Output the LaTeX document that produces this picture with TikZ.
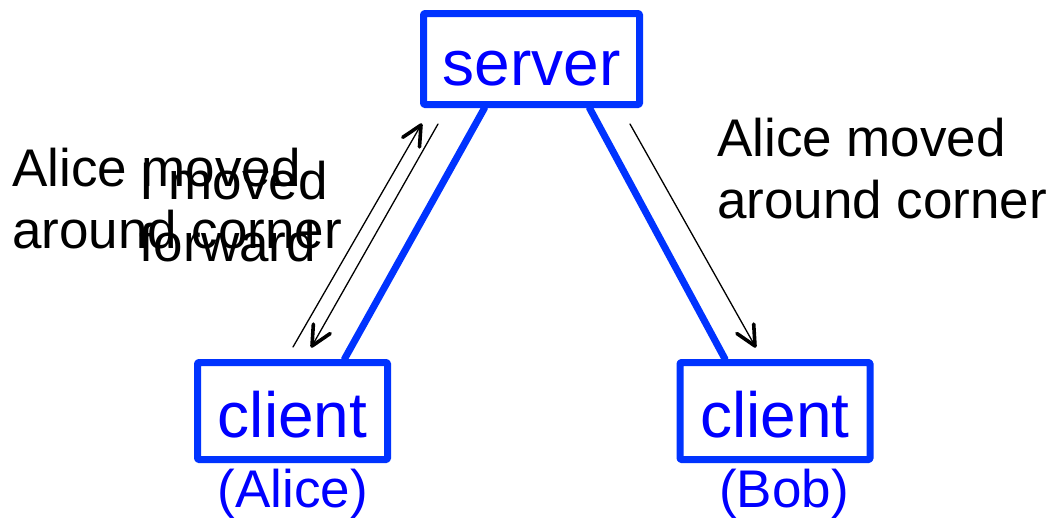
\documentclass[tikz,border=0pt]{standalone}
\usepackage{fontspec}
\setmainfont{Liberation Sans}
\usetikzlibrary{arrows.meta, calc, positioning}
\definecolor{linkblue}{RGB}{0, 51, 255}
\definecolor{nameblue}{RGB}{0, 0, 255}

\begin{document}
\begin{tikzpicture}[x=1pt, y=-1pt, line cap=round, line join=round,
    hostbox/.style={draw=linkblue, line width=7pt, rounded corners=1pt, text=nameblue,
        font=\fontsize{64}{70}\selectfont, text height=52pt, text depth=0pt,
        inner sep=0pt, minimum height=91pt},
    hostname/.style={text=nameblue, font=\fontsize{53}{60}\selectfont, inner sep=0pt, anchor=base},
    msg/.style={font=\fontsize{53}{62}\selectfont, align=left, inner sep=0pt, anchor=north west},
    msgline/.style={line width=1.3pt},
    msgtip/.style={line width=3.6pt}]
    \useasboundingbox (0,0) rectangle (1057,520);

    	\node[hostbox, minimum width=216pt] (server) at (531.5,59) {server};
    	\node[hostbox, minimum width=190pt, minimum height=97pt] (alice) at (292.5,411) {client};
    	\node[hostbox, minimum width=190pt, minimum height=97pt] (bob) at (775,411) {client};

    	\node[hostname] (alicename) at (293,507) {(Alice)};
    	\node[hostname] (bobname) at (784,507) {(Bob)};

		\draw [linkblue, line width=7pt] ([xshift=-47pt]server.south)--([xshift=52pt]alice.north);
		\draw [linkblue, line width=7pt] ([xshift=58pt]server.south)--([xshift=-50pt]bob.north);

    	\coordinate (up1) at (293,347);
    	\coordinate (up2) at (421,125);
    	\coordinate (dn1) at (438,124);
    	\coordinate (dn2) at (312,346);
    	\coordinate (rt1) at (630,124);
    	\coordinate (rt2) at (755,346);

		% message arrows with open barbs
		\foreach \s/\e in {up1/up2, dn1/dn2, rt1/rt2}{
			\draw [msgline] (\s)--(\e);
			\draw [msgtip] ($(\e)!22pt!-26:(\s)$)--(\e)--($(\e)!22pt!26:(\s)$);
		}

    	\node[msg] (leftmsg) at (12,148) {Alice moved\\around corner};
    	\node[msg] (selfmsg) at (139,161) {I moved\\forward};
    	\node[msg] (rightmsg) at (717,118) {Alice moved\\around corner};
    \end{tikzpicture}
\end{document}
